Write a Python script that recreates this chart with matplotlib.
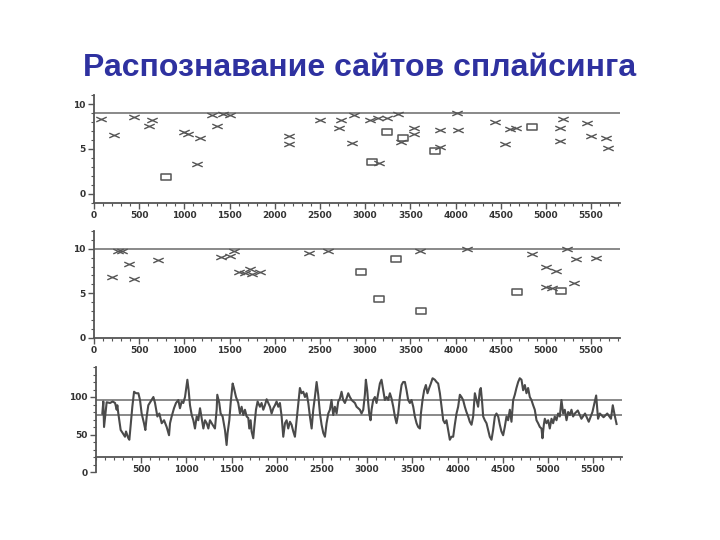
import matplotlib
matplotlib.use("Agg")
import matplotlib.pyplot as plt
from matplotlib.path import Path
from matplotlib.ticker import MultipleLocator

# ---------------- data ----------------
title = "Распознавание сайтов сплайсинга"

# panel 1: cross markers
p1_x_pos = [73, 224, 448, 611, 644, 998, 1039, 1173, 1141, 1304, 1365, 1426, 1507,
            2159, 2159, 2506, 2730, 2709, 2872, 2852, 3056, 3137, 3239, 3361, 3158,
            3402, 3544, 3544, 3829, 3829, 4013, 4033, 4441, 4543, 4604, 4665, 5154,
            5154, 5194, 5459, 5500, 5663, 5683]
p1_x_val = [8.4, 6.6, 8.6, 7.6, 8.2, 6.9, 6.7, 6.2, 3.3, 8.8, 7.6, 8.9, 8.8,
            6.4, 5.6, 8.3, 8.3, 7.4, 8.8, 5.7, 8.3, 8.5, 8.5, 8.9, 3.4,
            5.8, 7.4, 6.7, 7.1, 5.2, 9.0, 7.1, 8.0, 5.6, 7.2, 7.3, 7.3,
            5.9, 8.4, 7.9, 6.4, 6.2, 5.1]
# panel 1: square markers
p1_s_pos = [794, 3076, 3239, 3422, 3768, 4848]
p1_s_val = [1.85, 3.6, 6.85, 6.2, 4.8, 7.5]
p1_threshold = 9.0

# panel 2: cross markers
p2_x_pos = [204, 265, 313, 387, 448, 712, 1404, 1506, 1547, 1608, 1669, 1730, 1750,
            1832, 2381, 2584, 3602, 4131, 4843, 5006, 5108, 5006, 5067, 5230, 5332,
            5312, 5555]
p2_x_val = [6.8, 9.8, 9.7, 8.3, 6.6, 8.7, 9.1, 9.2, 9.8, 7.4, 7.3, 7.7, 7.2,
            7.4, 9.5, 9.8, 9.8, 10.0, 9.4, 7.9, 7.5, 5.75, 5.6, 10.0, 8.9,
            6.1, 9.0]
# panel 2: square markers
p2_s_pos = [2959, 3154, 3337, 3622, 4680, 5169]
p2_s_val = [7.4, 4.4, 8.9, 3.0, 5.1, 5.3]
p2_threshold = 10.0

# panel 3: profile
p3_pos = [70, 81, 89, 118, 155, 185, 211, 229, 236, 247, 258, 273, 295, 321, 332, 358,
          369, 384, 402, 421, 443, 469, 487, 505, 531, 546, 561, 579, 605, 635, 653,
          679, 701, 727, 753, 782, 808, 819, 837, 863, 885, 911, 929, 948, 966, 985,
          1011, 1025, 1040, 1059, 1077, 1095, 1114, 1132, 1151, 1169, 1188, 1206,
          1225, 1243, 1261, 1290, 1316, 1335, 1342, 1364, 1379, 1401, 1427, 1445,
          1456, 1475, 1490, 1512, 1526, 1549, 1574, 1593, 1611, 1630, 1648, 1667,
          1685, 1696, 1711, 1722, 1740, 1751, 1770, 1788, 1814, 1832, 1851, 1869,
          1888, 1906, 1925, 1943, 1962, 1980, 1998, 2017, 2035, 2054, 2072, 2091,
          2109, 2127, 2146, 2164, 2183, 2201, 2212, 2227, 2238, 2256, 2275, 2293,
          2312, 2330, 2349, 2367, 2386, 2404, 2422, 2441, 2459, 2478, 2496, 2515,
          2533, 2551, 2570, 2588, 2606, 2625, 2643, 2662, 2680, 2699, 2717, 2735,
          2754, 2772, 2791, 2809, 2828, 2846, 2865, 2883, 2901, 2920, 2938, 2957,
          2975, 2986, 3001, 3012, 3023, 3038, 3049, 3067, 3086, 3104, 3123, 3141,
          3159, 3178, 3196, 3215, 3233, 3252, 3270, 3289, 3307, 3325, 3344, 3362,
          3381, 3399, 3418, 3436, 3454, 3473, 3491, 3510, 3528, 3547, 3565, 3584,
          3595, 3613, 3631, 3650, 3668, 3687, 3705, 3724, 3749, 3768, 3786, 3805,
          3823, 3842, 3860, 3878, 3897, 3915, 3933, 3952, 3970, 3989, 4007, 4026,
          4044, 4062, 4081, 4099, 4118, 4136, 4155, 4173, 4192, 4210, 4228, 4247,
          4258, 4273, 4284, 4302, 4321, 4339, 4357, 4376, 4394, 4413, 4431, 4450,
          4468, 4486, 4505, 4523, 4542, 4560, 4579, 4597, 4616, 4634, 4652, 4671,
          4689, 4708, 4726, 4745, 4763, 4781, 4800, 4818, 4837, 4855, 4874, 4892,
          4911, 4929, 4940, 4955, 4966, 4984, 5003, 5021, 5040, 5058, 5076, 5095,
          5113, 5132, 5150, 5169, 5187, 5206, 5224, 5243, 5261, 5279, 5298, 5331,
          5371, 5411, 5452, 5493, 5534, 5555, 5575, 5616, 5657, 5698, 5718, 5740,
          5760]
p3_val = [78, 94, 60, 93, 92, 94, 92, 83, 89, 78, 69, 56, 52, 47, 54, 45,
          43, 63, 87, 107, 105, 105, 96, 78, 65, 56, 74, 89, 94, 100, 92,
          74, 78, 65, 69, 60, 49, 65, 74, 85, 92, 96, 85, 94, 92, 100,
          123, 109, 89, 76, 69, 58, 74, 69, 85, 72, 58, 69,
          65, 58, 69, 63, 58, 83, 103, 92, 78, 74, 56, 36,
          52, 69, 92, 118, 112, 100, 92, 78, 87, 76, 83, 74,
          72, 58, 69, 54, 45, 60, 83, 94, 87, 92, 83, 89,
          97, 92, 87, 78, 85, 89, 94, 87, 92, 74, 47, 65,
          69, 58, 67, 63, 54, 47, 60, 78, 92, 112, 105, 107,
          100, 105, 92, 74, 58, 83, 100, 120, 103, 78, 63, 52,
          47, 65, 78, 83, 96, 76, 87, 78, 94, 98, 107, 96,
          92, 98, 105, 100, 96, 94, 92, 87, 85, 83, 78, 83,
          103, 123, 109, 92, 78, 69, 83, 96, 100, 92, 105, 118,
          123, 109, 96, 100, 96, 105, 98, 87, 74, 65, 78, 100,
          116, 120, 120, 109, 96, 92, 96, 87, 74, 65, 60, 58,
          78, 96, 109, 116, 105, 112, 118, 125, 123, 120, 118, 105,
          87, 69, 65, 69, 56, 43, 47, 47, 63, 78, 87, 103,
          100, 96, 87, 80, 74, 67, 63, 74, 105, 96, 87, 109,
          112, 92, 74, 69, 65, 56, 47, 43, 56, 74, 78, 74,
          63, 54, 49, 60, 74, 69, 83, 67, 96, 103, 112, 120,
          125, 123, 109, 116, 105, 112, 100, 96, 89, 83, 69, 65,
          60, 58, 45, 63, 71, 65, 69, 58, 71, 65, 74, 69,
          78, 74, 96, 78, 83, 69, 80, 76, 83, 74, 78, 82,
          71, 78, 67, 80, 102, 71, 78, 73, 78, 71, 89, 75,
          64]
p3_thresholds = [95.5, 76.5]

ticks_x = [0, 500, 1000, 1500, 2000, 2500, 3000, 3500, 4000, 4500, 5000, 5500]
ticks_x3 = [500, 1000, 1500, 2000, 2500, 3000, 3500, 4000, 4500, 5000, 5500]

# ---------------- style ----------------
W, H = 720, 540
fig = plt.figure(figsize=(7.2, 5.4), dpi=100)
fig.patch.set_facecolor("white")

gray = "#555555"
cross = Path([(-1, -0.45), (1, 0.45), (-1, 0.45), (1, -0.45)],
             [Path.MOVETO, Path.LINETO, Path.MOVETO, Path.LINETO])
rect = Path([(-1, -0.55), (1, -0.55), (1, 0.55), (-1, 0.55), (-1, -0.55)],
            [Path.MOVETO, Path.LINETO, Path.LINETO, Path.LINETO, Path.CLOSEPOLY])


def axes_px(left, top, right, bottom):
    return fig.add_axes([left / W, 1 - bottom / H, (right - left) / W, (bottom - top) / H])


def style(ax, xticks):
    for s in ("top", "right"):
        ax.spines[s].set_visible(False)
    for s in ("left", "bottom"):
        ax.spines[s].set_color(gray)
        ax.spines[s].set_linewidth(1.3)
    ax.set_xticks(xticks)
    ax.set_xticklabels([str(t) for t in xticks])
    ax.xaxis.set_minor_locator(MultipleLocator(100))
    ax.tick_params(axis="both", which="major", direction="out", length=4, width=1,
                   colors=gray, labelsize=6.5, labelcolor="#333333", pad=2)
    ax.tick_params(axis="both", which="minor", direction="out", length=2, width=0.8,
                   colors=gray)
    for lab in ax.get_xticklabels() + ax.get_yticklabels():
        lab.set_fontweight("bold")
    ax.set_facecolor("none")


xmax = 5820

# panel 1
ax1 = axes_px(94, 95.4, 620, 202.6)
ax1.set_xlim(0, xmax)
ax1.set_ylim(-1, 11)
ax1.axhline(p1_threshold, color="#6a6a6a", lw=1.1)
ax1.plot(p1_x_pos, p1_x_val, linestyle="none", marker=cross, markersize=7.5,
         markeredgecolor=gray, markeredgewidth=1.0, color=gray)
ax1.plot(p1_s_pos, p1_s_val, linestyle="none", marker=rect, markersize=7.5,
         markerfacecolor="none", markeredgecolor=gray, markeredgewidth=1.1)
ax1.set_yticks([0, 5, 10])
ax1.yaxis.set_minor_locator(MultipleLocator(1))
style(ax1, ticks_x)

# panel 2
ax2 = axes_px(94, 231, 620, 337.7)
ax2.set_xlim(0, xmax)
ax2.set_ylim(0, 12)
ax2.axhline(p2_threshold, color="#6a6a6a", lw=1.1)
ax2.plot(p2_x_pos, p2_x_val, linestyle="none", marker=cross, markersize=7.5,
         markeredgecolor=gray, markeredgewidth=1.0, color=gray)
ax2.plot(p2_s_pos, p2_s_val, linestyle="none", marker=rect, markersize=7.5,
         markerfacecolor="none", markeredgecolor=gray, markeredgewidth=1.1)
ax2.set_yticks([0, 5, 10])
ax2.yaxis.set_minor_locator(MultipleLocator(1))
style(ax2, ticks_x)

# panel 3
ax3 = axes_px(96, 367, 622, 472)
ax3.set_xlim(0, xmax)
ax3.set_ylim(0, 140)
for t in p3_thresholds:
    ax3.axhline(t, color="#6a6a6a", lw=1.1)
ax3.plot(p3_pos, p3_val, color="#4a4a4a", lw=1.5)
ax3.set_yticks([0, 50, 100])
ax3.yaxis.set_minor_locator(MultipleLocator(10))
ax3.spines["bottom"].set_position(("data", 20))
style(ax3, ticks_x3)

fig.text(360 / W, 1 - 68 / H, title, ha="center", va="center",
         fontsize=23, fontweight="bold", color="#2E31A0",
         family=["Liberation Sans", "DejaVu Sans"])

fig.savefig("out.png", dpi=100, facecolor="white")
